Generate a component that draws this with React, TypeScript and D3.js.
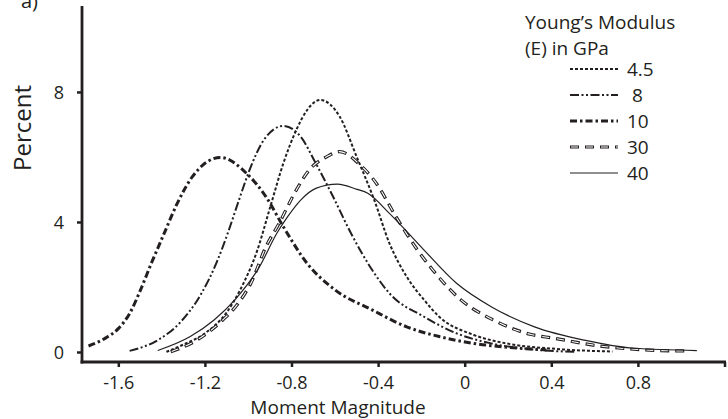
import React from "react";
import * as d3 from "d3";

const xTicks = [-1.6, -1.2, -0.8, -0.4, 0, 0.4, 0.8, 1.2];
const xTickLabels = ["-1.6", "-1.2", "-0.8", "-0.4", "0", "0.4", "0.8", ""];
const yTicks = [0, 4, 8];
const yTickLabels = ["0", "4", "8"];

const seriesNames = ["4.5", " 8", "10", "30", "40"];

const x45 = [-1.38,-1.3,-1.2,-1.1,-1.04,-0.96,-0.9,-0.84,-0.78,-0.73,-0.67,-0.58,-0.5,-0.42,-0.35,-0.27,-0.19,-0.12,0.04,0.19,0.4,0.68];
const y45 = [0.02,0.25,0.6,1.25,1.92,3.15,4.49,5.82,6.85,7.46,7.77,7.26,6.0,4.69,3.36,2.33,1.62,1.1,0.54,0.28,0.12,0.03];

const x8 = [-1.55,-1.42,-1.32,-1.22,-1.15,-1.09,-1.05,-0.99,-0.93,-0.84,-0.76,-0.69,-0.61,-0.53,-0.42,-0.35,-0.19,-0.04,0.12,0.3,0.51];
const y8 = [0.05,0.38,0.9,1.8,2.74,3.8,4.59,5.72,6.54,6.97,6.64,5.82,4.79,3.7,2.44,1.82,1.1,0.59,0.28,0.1,0.02];

const x10 = [-1.74,-1.66,-1.6,-1.55,-1.5,-1.45,-1.39,-1.33,-1.26,-1.13,-1.01,-0.92,-0.84,-0.73,-0.6,-0.43,-0.27,-0.12,0.04,0.2,0.375];
const y10 = [0.2,0.45,0.75,1.2,1.92,2.74,3.67,4.59,5.41,6.0,5.51,4.79,3.87,2.74,1.92,1.31,0.79,0.49,0.28,0.16,0.08];

const x30 = [-1.36,-1.24,-1.12,-1.05,-0.99,-0.92,-0.86,-0.78,-0.72,-0.64,-0.58,-0.49,-0.41,-0.32,-0.22,-0.15,-0.02,0.13,0.3,0.41,0.61,0.78,0.98,1.02];
const y30 = [0.02,0.38,1.0,1.5,2.13,3.26,3.97,5.0,5.62,6.02,6.18,5.8,5.2,4.18,3.15,2.54,1.62,1.0,0.56,0.44,0.21,0.1,0.05,0.05];

const x40 = [-1.42,-1.27,-1.16,-1.06,-0.95,-0.87,-0.82,-0.76,-0.69,-0.59,-0.5,-0.45,-0.35,-0.19,-0.04,0.12,0.32,0.55,0.78,1.07];
const y40 = [0.06,0.49,1.0,1.65,2.64,3.67,4.18,4.69,5.05,5.18,5.02,4.9,4.28,3.15,2.13,1.41,0.79,0.38,0.13,0.06];

const seriesX = [x45, x8, x10, x30, x40];
const seriesY = [y45, y8, y10, y30, y40];

const INK = "#231f20";
const FONT = "'Open Sans', 'Noto Sans', sans-serif";

type Sty = { w: number; dash?: string; double?: boolean };
const styles: Sty[] = [
  { w: 2, dash: "3,2" },
  { w: 2, dash: "9,2.5,2,2.5,2,2.5" },
  { w: 3, dash: "7,3,2.5,3" },
  { w: 3.2, dash: "9,6", double: true },
  { w: 1.2 },
];

export default function App() {
  const W = 728, H = 419;
  const x = d3.scaleLinear().domain([-1.77, 1.2]).range([82, 725]);
  const y = d3.scaleLinear().domain([0, 10.66]).range([352.5, 6]);
  const line = d3
    .line<[number, number]>()
    .x((d) => x(d[0]))
    .y((d) => y(d[1]))
    .curve(d3.curveMonotoneX);

  const renderPath = (d: string, s: Sty, key: string) => {
    if (s.double) {
      return (
        <g key={key}>
          <path d={d} fill="none" stroke={INK} strokeWidth={s.w} strokeDasharray={s.dash} />
          <path d={d} fill="none" stroke="#fff" strokeWidth={1.1} strokeDasharray="7,8" strokeDashoffset={-1} />
        </g>
      );
    }
    return <path key={key} d={d} fill="none" stroke={INK} strokeWidth={s.w} strokeDasharray={s.dash} />;
  };

  const legendY0 = 69;
  const legendStep = 26;

  return (
    <div style={{ position: "absolute", left: 0, top: 0 }}>
      <svg width={W} height={H} style={{ display: "block", background: "#fff" }} fontFamily={FONT}>
        {seriesX.map((xs, i) => {
          const pts = xs.map((v, j) => [v, seriesY[i][j]] as [number, number]);
          return renderPath(line(pts) || "", styles[i], "s" + i);
        })}
        <line x1={x.range()[0]} x2={x.range()[0]} y1={6} y2={363.5} stroke={INK} strokeWidth={2.8} />
        <line x1={80.6} x2={726} y1={362} y2={362} stroke={INK} strokeWidth={2.8} />
        {xTicks.map((t, i) => (
          <g key={"xt" + i}>
            <line x1={x(t)} x2={x(t)} y1={362} y2={367} stroke={INK} strokeWidth={2.5} />
            <text x={x(t)} y={389} textAnchor="middle" fontSize={18} fill={INK}>
              {xTickLabels[i]}
            </text>
          </g>
        ))}
        {yTicks.map((t, i) => (
          <g key={"yt" + i}>
            <line x1={77} x2={82} y1={y(t)} y2={y(t)} stroke={INK} strokeWidth={2.5} />
            <text x={64} y={y(t) + 6.5} textAnchor="end" fontSize={18} fill={INK}>
              {yTickLabels[i]}
            </text>
          </g>
        ))}
        <text x={338} y={414} textAnchor="middle" fontSize={19} fill={INK}>
          Moment Magnitude
        </text>
        <text transform="translate(31,128) rotate(-90)" textAnchor="middle" fontSize={24} fill={INK}>
          Percent
        </text>
        <text x={21} y={8} fontSize={20} fill={INK}>
          a)
        </text>
        <text x={525} y={29} fontSize={19} fill={INK}>
          Young’s Modulus
        </text>
        <text x={525} y={55} fontSize={19} fill={INK}>
          (E) in GPa
        </text>
        {seriesNames.map((n, i) => {
          const ly = legendY0 + i * legendStep;
          const s = styles[i];
          const d = `M${570},${ly}L${618},${ly}`;
          return (
            <g key={"lg" + i}>
              {renderPath(d, s, "lp" + i)}
              <text x={627} y={ly + 7} fontSize={19} fill={INK} xmlSpace="preserve">
                {n}
              </text>
            </g>
          );
        })}
      </svg>
    </div>
  );
}
